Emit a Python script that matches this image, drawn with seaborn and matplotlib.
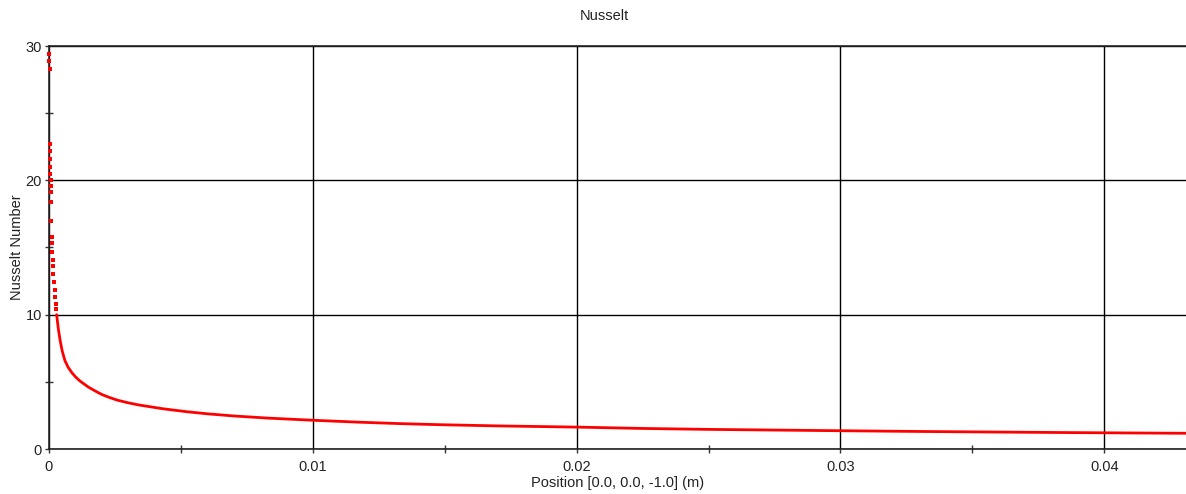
import matplotlib
matplotlib.use("Agg")
import matplotlib.pyplot as plt
from matplotlib.ticker import MultipleLocator, FixedLocator
import seaborn as sns
import pandas as pd

# ---- data ----
title = "Nusselt"
x_label = "Position [0.0, 0.0, -1.0] (m)"
y_label = "Nusselt Number"

# near-wall scattered points
wall_x = [0.00001, 0.00001, 0.00002, 0.00002, 0.00003, 0.00004, 0.00004, 0.00005,
          0.00006, 0.00006, 0.00007, 0.00008, 0.00009, 0.00011, 0.00012, 0.00013,
          0.00014, 0.00015, 0.00017, 0.00019, 0.00021, 0.00023, 0.00025, 0.00027]
wall_nu = [29.4, 28.9, 28.3, 22.7, 22.2, 21.6, 21.0, 20.5,
           20.0, 19.6, 19.1, 18.4, 17.0, 15.8, 15.3, 14.7,
           14.1, 13.6, 13.0, 12.4, 11.8, 11.3, 10.8, 10.4]

# main curve
pos = [0.00029, 0.00035, 0.00042, 0.0005, 0.0006, 0.00072, 0.00086, 0.001,
       0.00115, 0.0013, 0.0015, 0.00175, 0.002, 0.0023, 0.0026, 0.003,
       0.0034, 0.0043, 0.0052, 0.006, 0.007, 0.0083, 0.01, 0.0117, 0.0133,
       0.0148, 0.017, 0.02, 0.0225, 0.025, 0.0285, 0.03, 0.0333, 0.0388, 0.0431]
nusselt = [10.0, 9.0, 8.1, 7.3, 6.6, 6.1, 5.7, 5.38,
           5.1, 4.88, 4.6, 4.32, 4.06, 3.83, 3.63, 3.44,
           3.28, 3.0, 2.78, 2.62, 2.46, 2.3, 2.14, 2.0, 1.89,
           1.81, 1.72, 1.63, 1.53, 1.46, 1.39, 1.36, 1.30, 1.22, 1.17]

x_ticks = [0, 0.01, 0.02, 0.03, 0.04]
x_tick_labels = ["0", "0.01", "0.02", "0.03", "0.04"]
y_ticks = [0, 10, 20, 30]
y_tick_labels = ["0", "10", "20", "30"]

sns.set_style("white")
plt.rcParams["font.family"] = ["Liberation Sans", "DejaVu Sans"]

FS = 10.5
fig = plt.figure(figsize=(11.86, 4.94), dpi=100)
ax = fig.add_axes([49 / 1186, 1 - 449 / 494, (1186 - 49) / 1186, (449 - 46) / 494])

curve = pd.DataFrame({"x": pos, "y": nusselt})
wall = pd.DataFrame({"x": wall_x, "y": wall_nu})
sns.lineplot(data=curve, x="x", y="y", ax=ax, color="#ff0000", lw=2.0, zorder=4)
sns.scatterplot(data=wall, x="x", y="y", ax=ax, color="#ff0000", marker="s",
                s=6, linewidth=0, zorder=5, clip_on=False)

ax.set_xlim(0, 0.0431)
ax.set_ylim(0, 30)
ax.xaxis.set_major_locator(FixedLocator(x_ticks))
ax.set_xticklabels(x_tick_labels)
ax.yaxis.set_major_locator(FixedLocator(y_ticks))
ax.set_yticklabels(y_tick_labels)
ax.xaxis.set_minor_locator(MultipleLocator(0.005))
ax.yaxis.set_minor_locator(MultipleLocator(5))

ax.grid(True, which="major", color="black", lw=1)
ax.tick_params(which="major", direction="out", length=3, width=1, color="#333333",
               labelsize=FS, labelcolor="#222222")
ax.tick_params(axis="x", which="major", pad=5)
ax.tick_params(axis="y", which="major", pad=2)
ax.tick_params(which="minor", direction="inout", length=6, width=1, color="#333333")
ax.tick_params(axis="x", bottom=True, which="both")
ax.tick_params(axis="y", left=True, which="both")

for side in ["left", "bottom", "top"]:
    ax.spines[side].set_color("#222222")
    ax.spines[side].set_linewidth(1.2)
ax.spines["right"].set_visible(False)

ax.set_xlabel(x_label, fontsize=FS, color="#222222", va="center")
ax.xaxis.set_label_coords(0.5, -34 / 403)
ax.set_ylabel(y_label, fontsize=FS, color="#222222", ha="center", va="center")
ax.yaxis.set_label_coords(-31.5 / 1137, 0.5)
fig.text(604 / 1186, 1 - 16 / 494, title, fontsize=FS, color="#222222",
         ha="center", va="center")

fig.savefig("out.png", dpi=100)
